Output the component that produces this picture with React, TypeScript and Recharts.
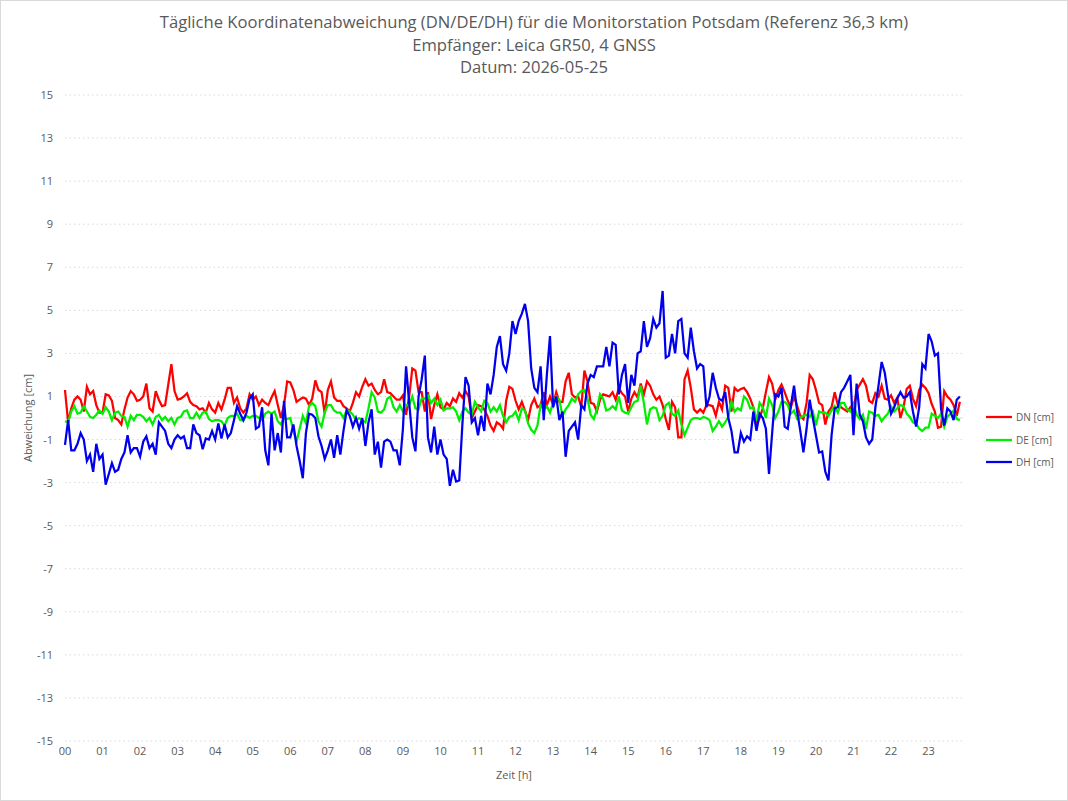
import React from 'react';
import { LineChart, Line, XAxis, YAxis, CartesianGrid, ReferenceLine } from 'recharts';

const TITLE_LINES = [
  'Tägliche Koordinatenabweichung (DN/DE/DH) für die Monitorstation Potsdam (Referenz 36,3 km)',
  'Empfänger: Leica GR50, 4 GNSS',
  'Datum: 2026-05-25',
];
const X_TITLE = 'Zeit [h]';
const Y_TITLE = 'Abweichung [cm]';
const HOUR_LABELS = ['00','01','02','03','04','05','06','07','08','09','10','11','12','13','14','15','16','17','18','19','20','21','22','23'];
const Y_TICKS = [-15,-13,-11,-9,-7,-5,-3,-1,1,3,5,7,9,11,13,15];
const STEPS_PER_HOUR = 12;
const SERIES_KEYS = ['dn', 'de', 'dh'];
const SERIES_NAMES = ['DN [cm]', 'DE [cm]', 'DH [cm]'];
const SERIES_COLORS = ['#ff0000', '#00ee00', '#0000ee'];

const DN = [
  1.3,-0.2,0.45,0.85,1.0,0.85,0.3,1.45,1.1,1.25,0.6,0.25,0.25,1.1,1.05,0.8,0,-0.1,-0.3,0.4,0.95,1.25,1.1,0.8,
  0.85,1.0,1.6,0.45,0.3,1.25,0.85,0.55,0.6,1.55,2.5,1.25,0.85,0.9,1.0,1.15,0.75,0.6,0.55,0.4,0.45,0.25,0.7,0.4,
  0.25,0.7,0.4,0.85,1.4,1.4,0.7,0.95,0.45,0.25,0.45,1.1,0.85,1.0,0.6,0.85,0.7,0.6,0.95,1.25,0.6,0.0,0.6,1.7,
  1.65,1.3,0.75,0.85,0.95,0.9,0.6,0.9,1.75,1.3,1.2,0.2,1.3,1.7,0.95,0.8,0.8,0.55,0.45,0.3,0.7,1.2,1.0,1.45,
  1.8,1.5,1.6,1.3,1.1,1.2,1.8,1.2,1.15,1.0,0.85,0.85,1.05,0.15,1.0,2.3,2.2,1.2,1.2,0.3,1.2,-0.05,0.6,1.1,0.5,
  0.4,0.7,0.55,0.9,0.75,1.15,0.95,1.25,1.0,0.0,0.3,0.6,0.55,0.4,0.1,-0.35,-0.6,-0.2,-0.3,-0.5,0.8,1.45,1.35,0.8,
  0.4,0.75,0.35,-0.1,0.6,0.9,0.5,0.6,1.2,0.6,1.0,0.6,1.2,0.75,0.75,1.7,2.1,1.1,0.95,1.0,0.5,2.2,1.7,0.7,
  0.65,0.3,0.85,1.1,1.05,1.0,1.2,0.85,1.4,1.15,1.0,0.3,0.9,1.2,0.95,1.6,1.1,1.7,1.5,1.1,0.85,1.0,0.6,-0.05,
  -0.55,0.75,0.5,-0.9,-0.9,1.8,2.2,1.4,0.4,0.25,0.4,0.25,0.6,0.6,0.55,0.1,0.75,0.4,1.5,1.4,0.3,1.4,1.25,1.35,1.4,
  1.2,0.9,0.5,-0.3,0.0,0.45,1.2,1.9,1.6,0.85,1.3,1.55,1.2,0.8,0.5,1.0,0.55,0.1,-0.05,0.7,2.0,1.8,1.3,0.7,
  0.6,-0.3,0.3,0.5,1.2,0.6,0.5,0.4,0.3,0.5,0.3,1.3,1.55,1.8,1.5,0.8,0.7,1.15,1.0,1.5,0.9,0.85,1.05,0.7,
  0.95,0.0,0.5,1.35,1.5,0.9,0.55,1.3,1.55,1.4,1.15,0.65,0.3,-0.45,-0.4,1.25,1.0,0.85,0.6,0.1,0.75,
];

const DE = [
  -0.15,-0.2,0.3,0.55,0.2,0.25,0.55,0.3,0.05,0.0,0.15,0.35,0.2,0.5,0.3,-0.1,0.25,0.3,0.1,0.05,-0.4,0.1,-0.1,0.15,
  0.15,0.05,-0.15,0.0,-0.3,0.05,0.15,-0.1,0.05,-0.15,0.0,-0.3,0.0,0.05,0.3,0.35,0.0,0.0,0.25,0.0,0.25,0.3,-0.05,-0.15,
  -0.1,-0.1,-0.15,-0.35,0.0,0.1,0.1,0.2,-0.1,-0.1,0.1,0.0,0.1,0.1,0.0,-0.1,0.2,0.3,0.2,0.3,-0.15,-0.3,0.0,-0.05,
  0.0,-0.6,-1.1,-0.5,0.1,-0.25,0.55,0.7,0.55,-0.15,-0.4,0.25,0.6,0.6,0.35,0.25,0.25,0.0,0.35,0.3,0.15,-0.1,0.0,-0.1,
  -0.2,0.45,1.2,0.95,0.3,0.25,0.4,0.9,1.0,0.5,0.3,0.6,0.3,0.6,0.6,1.0,0.45,0.4,0.9,0.9,1.05,0.7,0.9,0.6,0.85,
  0.35,0.45,0.45,0.5,0.3,-0.1,0.3,0.45,0.25,0.15,0.75,0.5,0.3,0.8,0.7,0.3,0.5,0.3,0.6,0.1,-0.2,0.05,0.1,0.3,
  -0.1,0.45,0.35,-0.25,-0.55,-0.7,-0.35,0.6,0.4,0.55,0.25,0.7,1.0,0.85,0.1,0.4,0.6,0.9,0.75,1.1,1.25,1.3,0.9,0.15,
  -0.05,0.4,1.1,0.9,0.35,0.4,0.55,0.4,1.0,0.35,0.25,0.2,0.5,0.75,0.8,1.5,0.7,-0.3,0.4,0.5,0.45,-0.1,0.1,0.6,
  0.7,0.2,0.1,0.35,-0.3,-0.8,-0.45,-0.1,0.0,0.0,-0.05,0.05,0.0,-0.1,-0.6,-0.4,-0.15,-0.4,-0.2,0.05,0.75,0.3,0.45,0.35,1.0,
  0.85,0.45,0.5,-0.15,0.7,0.5,0.0,0.9,0.6,0.0,0.3,0.75,0.75,0.6,0.2,0.35,-0.05,0.0,0.1,0.15,0.05,0.3,-0.35,0.3,
  0.25,0.25,0.1,0.35,0.55,0.25,0.7,0.7,0.4,0.3,0.65,0.15,-0.05,0.15,-0.5,0.3,0.25,0.1,0.15,-0.15,0.05,0.2,0.55,0.3,
  0.45,0.6,0.55,0.2,0.05,-0.2,-0.25,-0.5,-0.6,-0.45,-0.45,0.2,0.1,0.0,0.2,-0.4,0.05,0.2,0.35,-0.05,-0.1,
];

const DH = [
  -1.25,-0.1,-1.5,-1.5,-1.2,-0.7,-1.0,-2.0,-1.7,-2.5,-1.2,-1.9,-1.7,-3.1,-2.6,-2.1,-2.5,-2.4,-1.9,-1.6,-0.8,-1.6,-1.4,-1.4,
  -1.8,-1.1,-0.85,-1.4,-1.2,-1.7,-0.2,-0.4,-0.6,-1.2,-1.4,-1.0,-0.8,-0.95,-0.85,-1.4,-1.4,-0.3,-0.7,-0.8,-1.45,-0.95,-1.0,-0.6,
  -1.0,-0.25,-0.95,-0.3,-0.9,-0.7,-0.1,0.55,0.2,-0.1,0.25,0.9,1.1,-0.5,-0.4,0.5,-1.5,-2.2,0.2,-1.5,-0.7,-1.6,0.8,-0.9,
  -0.9,-0.3,-1.3,-2.0,-2.8,-0.7,0.2,0.15,0.0,-0.85,-1.3,-1.9,-1.5,-1.0,-1.85,-0.8,-1.7,-0.6,0.35,0.1,-0.4,0.0,-0.5,0.0,
  -1.3,-0.2,0.4,-1.7,-1.1,-2.3,-1.1,-1.0,-1.1,-1.5,-1.5,-2.2,-0.5,2.4,0.7,-0.9,-1.55,1.0,1.8,2.9,-0.9,-1.6,-0.4,-1.7,-1.0,
  -1.7,-1.9,-3.15,-2.4,-2.95,-2.9,-0.3,1.9,1.5,-0.2,0.0,-0.8,0.1,-0.6,1.6,1.1,2.0,3.3,3.8,2.5,2.2,3.0,4.5,3.9,
  4.5,4.85,5.3,4.5,2.3,1.4,1.2,2.4,-0.1,2.0,3.8,0.5,1.0,-0.1,0.3,-1.8,-0.6,-0.4,-0.2,-1.0,0.6,0.4,1.6,2.0,
  1.9,2.4,2.4,2.4,3.3,2.4,3.5,3.4,1.1,2.0,2.5,0.7,2.0,1.5,3.0,3.1,4.5,3.3,3.7,4.6,4.2,4.4,5.9,2.8,
  2.9,3.9,3.0,4.5,4.6,3.0,2.8,4.2,3.1,2.3,2.5,2.4,0.5,1.0,2.1,1.4,0.9,0.8,1.2,0.0,-0.6,-1.6,-1.6,-0.7,-1.1,
  -0.85,-1.0,0.3,-0.6,0.2,0.0,-0.5,-2.6,-0.7,1.1,1.0,1.4,-0.4,-0.5,0.6,1.5,0.3,-0.6,-1.6,-0.5,0.85,0.0,-0.8,-1.6,
  -1.55,-2.5,-2.9,-0.8,0.45,0.5,1.2,1.4,1.7,2.0,-0.8,1.6,0.15,-0.15,-0.9,-1.2,-1.0,0.5,1.5,2.6,2.1,1.1,0.2,0.5,
  0.9,1.2,0.95,1.0,1.2,0.3,-0.4,0.5,2.5,2.3,3.9,3.55,2.9,3.0,0.4,-0.35,0.45,0.3,-0.1,0.85,1.0,
];

const data = DN.map((v, i) => ({ t: i, dn: v, de: DE[i], dh: DH[i] }));
const X_TICKS = HOUR_LABELS.map((_, h) => h * STEPS_PER_HOUR);

const FONT = '"Open Sans", "Noto Sans", sans-serif';
const TEXT_COLOR = '#595959';

const XTick = (props: any) => {
  const { x, y, payload } = props;
  return (
    <text x={x} y={y} dy={10} textAnchor="middle" fill={TEXT_COLOR} fontSize={11} fontFamily={FONT}>
      {HOUR_LABELS[Math.round(payload.value / STEPS_PER_HOUR)]}
    </text>
  );
};

const YTick = (props: any) => {
  const { x, y, payload } = props;
  return (
    <text x={x} y={y} dy={4} textAnchor="end" fill={TEXT_COLOR} fontSize={11} fontFamily={FONT}>
      {payload.value}
    </text>
  );
};

export default function App() {
  return (
    <div style={{ position: 'absolute', left: 0, top: 0, width: 1068, height: 801, background: '#fff', fontFamily: FONT }}>
      <LineChart
        width={1068}
        height={801}
        data={data}
        margin={{ top: 95, right: 105, bottom: 0, left: 25 }}
      >
        <CartesianGrid vertical={false} stroke="#d9d9d9" strokeDasharray="1.5 3" />
        <XAxis
          dataKey="t"
          type="number"
          domain={[0, 287]}
          ticks={X_TICKS}
          interval={0}
          axisLine={false}
          tickLine={false}
          tickSize={0}
          tickMargin={4}
          height={60}
          tick={<XTick />}
        />
        <YAxis
          type="number"
          domain={[-15, 15]}
          ticks={Y_TICKS}
          interval={0}
          axisLine={false}
          tickLine={false}
          tickSize={0}
          tickMargin={12}
          width={40}
          tick={<YTick />}
        />
        <ReferenceLine y={0} stroke="#d9d9d9" strokeWidth={1} />
        {SERIES_KEYS.map((k, i) => (
          <Line key={k} type="linear" dataKey={k} name={SERIES_NAMES[i]} stroke={SERIES_COLORS[i]} strokeWidth={2.25} dot={false} isAnimationActive={false} />
        ))}
      </LineChart>
      <div style={{ position: 'absolute', left: 0, top: 11, width: 1068, textAlign: 'center', color: TEXT_COLOR, fontSize: 16.6, lineHeight: '22.5px' }}>
        {TITLE_LINES.map((l) => (
          <div key={l}>{l}</div>
        ))}
      </div>
      <div style={{ position: 'absolute', left: 65, width: 898, top: 767, textAlign: 'center', color: TEXT_COLOR, fontSize: 11 }}>
        {X_TITLE}
      </div>
      <div style={{ position: 'absolute', left: 27, top: 418, width: 0, height: 0 }}>
        <div style={{ position: 'absolute', left: 0, top: 0, transform: 'translate(-50%, -50%) rotate(-90deg)', whiteSpace: 'nowrap', color: TEXT_COLOR, fontSize: 11 }}>
          {Y_TITLE}
        </div>
      </div>
      <div style={{ position: 'absolute', left: 985, top: 406, fontSize: 10, color: TEXT_COLOR }}>
        {SERIES_NAMES.map((n, i) => (
          <div key={n} style={{ display: 'flex', alignItems: 'center', height: 22.5 }}>
            <svg width={28} height={6} style={{ marginRight: 3 }}>
              <line x1={1} y1={3} x2={27} y2={3} stroke={SERIES_COLORS[i]} strokeWidth={2.25} />
            </svg>
            <span>{n}</span>
          </div>
        ))}
      </div>
      <div style={{ position: 'absolute', left: 0, top: 0, width: 1068, height: 801, boxSizing: 'border-box', border: '1px solid #d9d9d9', pointerEvents: 'none' }} />
    </div>
  );
}
